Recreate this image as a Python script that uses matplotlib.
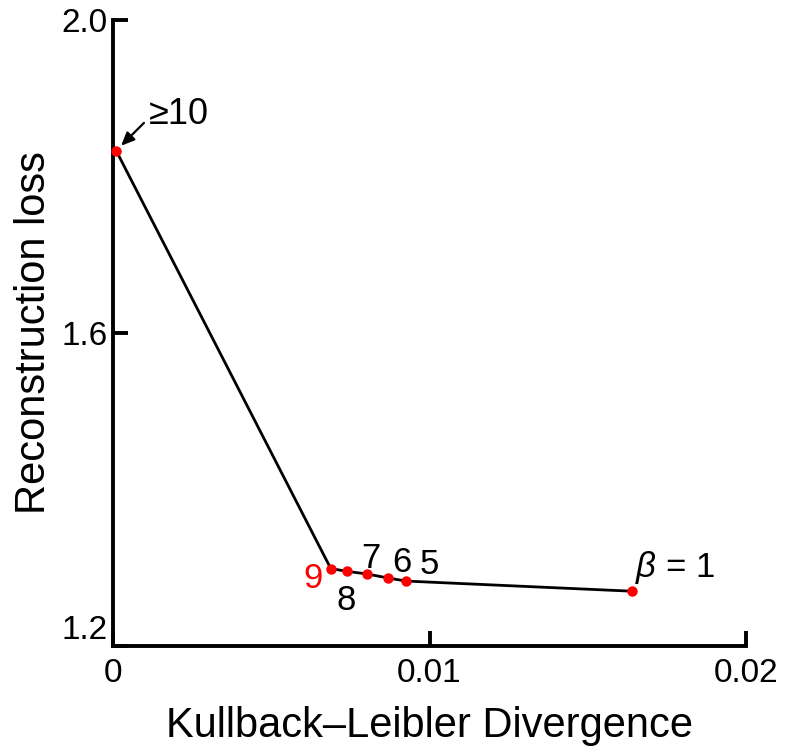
import matplotlib
matplotlib.use("Agg")
import matplotlib.pyplot as plt

plt.rcParams['font.family'] = ['Liberation Sans', 'DejaVu Sans']
plt.rcParams['mathtext.fontset'] = 'custom'
plt.rcParams['mathtext.it'] = 'Liberation Sans:italic'
plt.rcParams['mathtext.rm'] = 'Liberation Sans'

# beta sweep: KL divergence vs reconstruction loss
beta_labels = ["≥10", "9", "8", "7", "6", "5", "β = 1"]
kl_div = [0.0001, 0.00688, 0.00738, 0.00803, 0.00868, 0.00925, 0.01641]
recon_loss = [1.833, 1.299, 1.2955, 1.292, 1.287, 1.283, 1.270]

x_ticks = [0, 0.01, 0.02]
x_tick_labels = ["0", "0.01", "0.02"]
y_ticks = [1.2, 1.6, 2.0]
y_tick_labels = ["1.2", "1.6", "2.0"]

fig = plt.figure(figsize=(7.88, 7.54), dpi=100)
ax = fig.add_axes([113/788, 1 - 646/754, (746 - 113)/788, (646 - 20)/754])

ax.plot(kl_div, recon_loss, color="black", lw=2.0, zorder=2, clip_on=False)
ax.plot(kl_div, recon_loss, ls="none", marker="o", ms=7.5, color="red",
        mec="none", zorder=3, clip_on=False)

ax.set_xlim(0, 0.02)
ax.set_ylim(1.2, 2.0)
ax.set_xticks(x_ticks)
ax.set_xticklabels(x_tick_labels)
ax.set_yticks(y_ticks)
ax.set_yticklabels(y_tick_labels)

for side in ("top", "right"):
    ax.spines[side].set_visible(False)
for side in ("left", "bottom"):
    ax.spines[side].set_linewidth(2.8)
    ax.spines[side].set_capstyle("projecting")

ax.tick_params(direction="in", length=11, width=2.8, labelsize=24)
ax.tick_params(axis="y", pad=4)
ax.tick_params(axis="x", pad=9)

# lowest y label sits above the corner so it clears the "0"
ax.get_yticklabels()[0].set_va("bottom")

ax.set_xlabel("Kullback\u2013Leibler Divergence", fontsize=30, labelpad=12)
ax.set_ylabel("Reconstruction loss", fontsize=30, labelpad=5)

# point labels
ax.annotate("", xy=(kl_div[0], recon_loss[0]),
            xytext=(20, 20), textcoords="offset points",
            arrowprops=dict(arrowstyle="-|>,head_length=0.8,head_width=0.35",
                            color="black", lw=1.6, shrinkA=0, shrinkB=5))
ax.annotate(beta_labels[0], xy=(kl_div[0], recon_loss[0]),
            xytext=(45, 26), textcoords="offset points",
            fontsize=26, ha="center", va="center")

label_offsets = {
    1: (-13, -7, "red"),
    2: (0, -21, "black"),
    3: (3, 11, "black"),
    4: (10, 11, "black"),
    5: (17, 12, "black"),
}
for i, (dx, dy, col) in label_offsets.items():
    ax.annotate(beta_labels[i], xy=(kl_div[i], recon_loss[i]),
                xytext=(dx, dy), textcoords="offset points",
                fontsize=25, ha="center", va="center", color=col)

ax.annotate(r"$\it{\beta}$ = 1", xy=(kl_div[6], recon_loss[6]),
            xytext=(31, 17), textcoords="offset points",
            fontsize=25, ha="center", va="center")

fig.savefig("out.png", dpi=100)
